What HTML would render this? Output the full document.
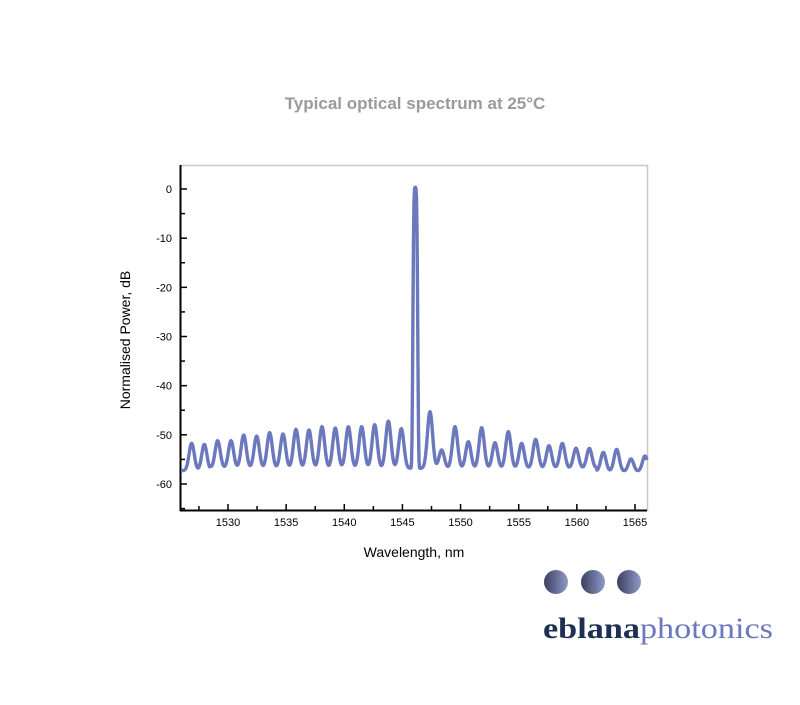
<!DOCTYPE html>
<html><head><meta charset="utf-8"><style>
body{margin:0;background:#fff;width:800px;height:700px;overflow:hidden;font-family:"Liberation Sans",sans-serif}
</style></head><body>
<svg id="s" width="800" height="700" xmlns="http://www.w3.org/2000/svg">
<text x="415" y="109" text-anchor="middle" font-size="17" font-weight="bold" fill="#9a9a9a">Typical optical spectrum at 25°C</text>
<rect x="180.5" y="165.5" width="467" height="345" fill="none" stroke="#c8c8c8" stroke-width="1.5"/>
<line x1="180.5" y1="165" x2="180.5" y2="511" stroke="#000" stroke-width="2"/>
<line x1="180" y1="510.5" x2="647" y2="510.5" stroke="#000" stroke-width="2"/>
<g id="ticks" stroke="#000" stroke-width="1.5"></g>
<g id="lbl" font-size="11" fill="#000"></g>
<text x="414" y="557" text-anchor="middle" font-size="14">Wavelength, nm</text>
<text transform="translate(130,340) rotate(-90)" text-anchor="middle" font-size="14">Normalised Power, dB</text>
<path id="p" fill="none" stroke="#6b78bd" stroke-width="3.4" stroke-linejoin="round"/>
<defs><linearGradient id="g" x1="0" x2="1"><stop offset="0" stop-color="#3a4060"/><stop offset="1" stop-color="#8f9ac8"/></linearGradient></defs>
<circle cx="556" cy="582" r="12" fill="url(#g)"/>
<circle cx="593" cy="582" r="12" fill="url(#g)"/>
<circle cx="629" cy="582" r="12" fill="url(#g)"/>
<text x="543" y="638" font-family="Liberation Serif,serif" font-size="30" textLength="230" lengthAdjust="spacingAndGlyphs"><tspan fill="#1d2f52" font-weight="bold">eblana</tspan><tspan fill="#6b78bd">photonics</tspan></text>
</svg>
<script>
var NS="http://www.w3.org/2000/svg",t=document.getElementById('ticks'),l=document.getElementById('lbl');
function ln(a,b,c,d){var e=document.createElementNS(NS,'line');e.setAttribute('x1',a);e.setAttribute('y1',b);e.setAttribute('x2',c);e.setAttribute('y2',d);t.appendChild(e);}
function tx(x,y,s,a){var e=document.createElementNS(NS,'text');e.setAttribute('x',x);e.setAttribute('y',y);e.setAttribute('text-anchor',a);e.textContent=s;l.appendChild(e);}
var px=function(w){return 228+(w-1530)*(407/35);};
for(var w=1527.5;w<=1566;w+=2.5){var x=px(w);var maj=(w%5==0);ln(x,510,x,maj?504:506);if(maj)tx(x,526,w,'middle');}
for(var v=0;v>=-65;v-=5){var y=189+(-v)*295/60;var maj=(v%10==0);ln(181,y,maj?187:185,y);if(maj)tx(172,y+4,v,'end');}
var pk=[[65,130],[103,133],[143,122],[183,122],[221,105],[260,108],[299,98],[339,102],[378,88],[417,90],[456,80],[496,84],[535,80],[575,80],[614,74],[655,63],[694,86],[780,35],[815,150],[855,80],[895,125],[935,83],[975,128],[1015,95],[1055,130],[1097,118],[1137,137],[1177,130],[1218,145],[1258,145],[1300,157],[1340,148],[1383,177],[1425,168]];
var d="";
for(var x=181;x<=647;x+=0.5){
 var xz=(x-170)*3;
 var base=xz<120?212:(xz>1280?214:205);
 var y=base;
 for(var i=0;i<pk.length;i++){var h=base-pk[i][1];var dx=(xz-pk[i][0])/11;y-=h*Math.exp(-dx*dx);}
 var yy=400+y/3;
 var dm=(x-415.3)/1.9;yy-=(470-189)*Math.exp(-dm*dm*dm*dm/4);
 d+=(d?"L":"M")+x.toFixed(1)+" "+yy.toFixed(1);
}
document.getElementById('p').setAttribute('d',d);
</script>
</body></html>
